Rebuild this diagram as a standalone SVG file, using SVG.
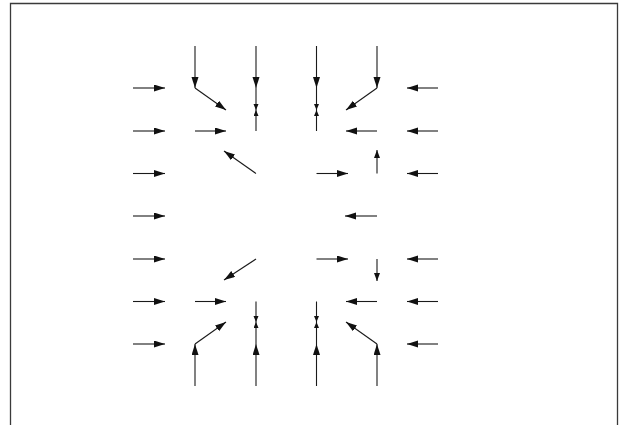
<svg xmlns="http://www.w3.org/2000/svg" width="627" height="425" viewBox="0 0 627 425">
<style>
.a{stroke:#1a1a1a;stroke-width:1.1;fill:none}
.L{marker-end:url(#hl)}
.M{marker-end:url(#hm)}
.S{marker-end:url(#hs)}
.frame{stroke:#3a3a3a;stroke-width:1.3;fill:none}
</style>
<defs>
<marker id="hl" markerUnits="userSpaceOnUse" markerWidth="12" markerHeight="8" refX="11" refY="3.5" orient="auto"><path d="M0,0 L11,3.5 L0,7 z" fill="#111"/></marker>
<marker id="hm" markerUnits="userSpaceOnUse" markerWidth="9" markerHeight="7" refX="8" refY="3" orient="auto"><path d="M0,0 L8,3 L0,6 z" fill="#111"/></marker>
<marker id="hs" markerUnits="userSpaceOnUse" markerWidth="7" markerHeight="6" refX="6" refY="2.5" orient="auto"><path d="M0,0 L6,2.5 L0,5 z" fill="#111"/></marker>
</defs>
<path class="frame" d="M10.5,430 V3.5 H617.5 V430"/>
<g id="connectors">
<!-- left column -->
<line class="a L" x1="133" y1="88" x2="165" y2="88"/>
<line class="a L" x1="133" y1="131" x2="165" y2="131"/>
<line class="a L" x1="133" y1="173.5" x2="165" y2="173.5"/>
<line class="a L" x1="133" y1="216" x2="165" y2="216"/>
<line class="a L" x1="133" y1="259" x2="165" y2="259"/>
<line class="a L" x1="133" y1="301.5" x2="165" y2="301.5"/>
<line class="a L" x1="133" y1="344" x2="165" y2="344"/>
<!-- right column -->
<line class="a L" x1="438" y1="88" x2="407" y2="88"/>
<line class="a L" x1="438" y1="131" x2="407" y2="131"/>
<line class="a L" x1="438" y1="173.5" x2="407" y2="173.5"/>
<line class="a L" x1="438" y1="259" x2="407" y2="259"/>
<line class="a L" x1="438" y1="301.5" x2="407" y2="301.5"/>
<line class="a L" x1="438" y1="344" x2="407" y2="344"/>
<!-- top verticals -->
<line class="a L" x1="195" y1="46" x2="195" y2="88"/>
<line class="a L" x1="256" y1="46" x2="256" y2="88"/>
<line class="a L" x1="316.5" y1="46" x2="316.5" y2="88"/>
<line class="a L" x1="377" y1="46" x2="377" y2="88"/>
<!-- bottom verticals -->
<line class="a L" x1="195" y1="386" x2="195" y2="344"/>
<line class="a L" x1="256" y1="386" x2="256" y2="344"/>
<line class="a L" x1="316.5" y1="386" x2="316.5" y2="344"/>
<line class="a L" x1="377" y1="386" x2="377" y2="344"/>
<!-- row 1 -->
<line class="a L" x1="195" y1="88" x2="226" y2="110"/>
<line class="a S" x1="256" y1="88" x2="256" y2="110"/>
<line class="a S" x1="316.5" y1="88" x2="316.5" y2="110"/>
<line class="a L" x1="377" y1="88" x2="346" y2="110"/>
<!-- row 2 -->
<line class="a L" x1="195" y1="131" x2="226" y2="131"/>
<line class="a S" x1="256" y1="131" x2="256" y2="110"/>
<line class="a S" x1="316.5" y1="131" x2="316.5" y2="110"/>
<line class="a L" x1="377" y1="131" x2="346" y2="131"/>
<!-- row 3 -->
<line class="a L" x1="256" y1="173.5" x2="224" y2="151"/>
<line class="a L" x1="316.5" y1="173.5" x2="348" y2="173.5"/>
<line class="a M" x1="377" y1="173.5" x2="377" y2="150"/>
<!-- row 4 -->
<line class="a L" x1="377" y1="216" x2="345" y2="216"/>
<!-- row 5 -->
<line class="a L" x1="256" y1="259" x2="224" y2="280"/>
<line class="a L" x1="316.5" y1="259" x2="348" y2="259"/>
<line class="a M" x1="377" y1="259" x2="377" y2="281"/>
<!-- row 6 -->
<line class="a L" x1="195" y1="301.5" x2="226" y2="301.5"/>
<line class="a S" x1="256" y1="301.5" x2="256" y2="322"/>
<line class="a S" x1="316.5" y1="301.5" x2="316.5" y2="322"/>
<line class="a L" x1="377" y1="301.5" x2="346" y2="301.5"/>
<!-- row 7 -->
<line class="a L" x1="195" y1="344" x2="226" y2="322"/>
<line class="a S" x1="256" y1="344" x2="256" y2="322"/>
<line class="a S" x1="316.5" y1="344" x2="316.5" y2="322"/>
<line class="a L" x1="377" y1="344" x2="346" y2="322"/>
</g>
</svg>
